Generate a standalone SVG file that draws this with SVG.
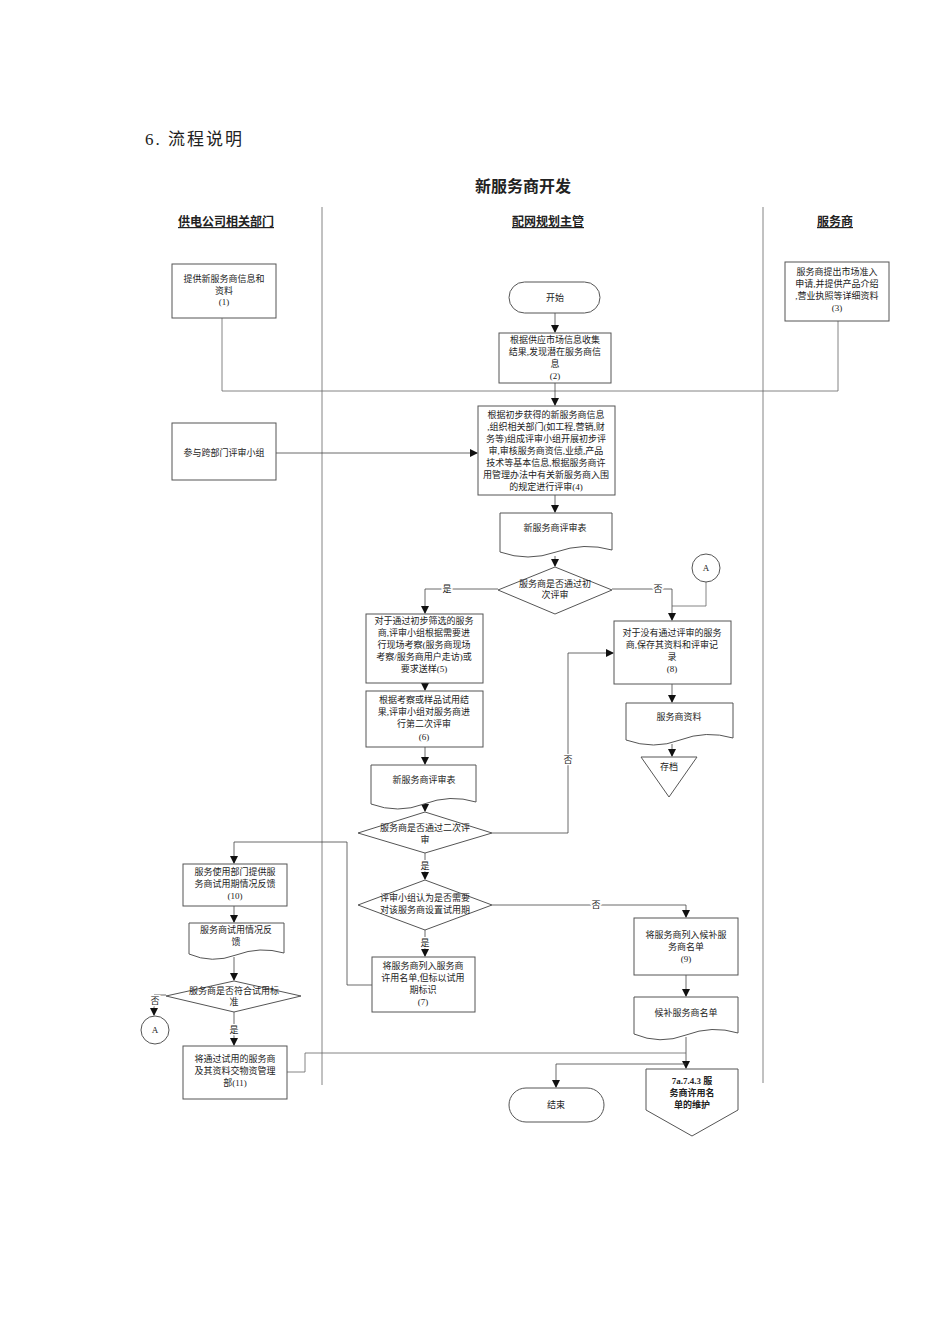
<svg xmlns="http://www.w3.org/2000/svg" width="950" height="1344" viewBox="0 0 950 1344">
<style>
text{font-family:"Liberation Serif","Noto Sans CJK SC",serif;font-size:9px;fill:#222;text-anchor:middle}
.b{fill:#fff;stroke:#555;stroke-width:1}
.l{fill:none;stroke:#666;stroke-width:0.8}
.a{fill:none;stroke:#444;stroke-width:0.8;marker-end:url(#ar)}
.h{font-size:12px;font-weight:bold;text-decoration:underline}
.lb text{stroke:#fff;stroke-width:3px;paint-order:stroke}
</style>
<defs><marker id="ar" markerWidth="8" markerHeight="8" refX="7" refY="4" orient="auto" markerUnits="userSpaceOnUse"><path d="M0,0L8,4L0,8z" fill="#111"/></marker></defs>
<rect width="950" height="1344" fill="#fff"/>
<text x="145" y="145" style="font-size:17px;text-anchor:start;letter-spacing:2px">6. 流程说明</text>
<text x="523" y="192" style="font-size:16px;font-weight:bold">新服务商开发</text>
<text x="226" y="226" class="h">供电公司相关部门</text>
<text x="548" y="226" class="h">配网规划主管</text>
<text x="835" y="226" class="h">服务商</text>
<g id="lanes"><line x1="322" y1="207" x2="322" y2="1085" class="l"/><line x1="763" y1="207" x2="763" y2="1083" class="l"/></g>
<g id="connectors">
<polyline points="222,318 222,391 838,391 838,321" class="l"/>
<line x1="555" y1="313" x2="555" y2="332" class="a"/>
<line x1="555" y1="383" x2="555" y2="405" class="a"/>
<line x1="276" y1="453" x2="477" y2="453" class="a"/>
<line x1="555" y1="495" x2="555" y2="512" class="a"/>
<line x1="555" y1="556" x2="555" y2="566" class="a"/>
<polyline points="498,589 425,589 425,613" class="a"/>
<polyline points="612,589 672,589 672,620" class="a"/>
<polyline points="706,582 706,606 672,606" class="l"/>
<line x1="425" y1="683" x2="425" y2="690" class="a"/>
<line x1="425" y1="747" x2="425" y2="764" class="a"/>
<line x1="425" y1="807" x2="425" y2="811" class="a"/>
<polyline points="492,833 568,833 568,653 613,653" class="a"/>
<line x1="672" y1="684" x2="672" y2="702" class="a"/>
<line x1="672" y1="744" x2="672" y2="756" class="a"/>
<line x1="425" y1="853" x2="425" y2="879" class="a"/>
<polyline points="492,905 686,905 686,917" class="a"/>
<line x1="425" y1="930" x2="425" y2="956" class="a"/>
<polyline points="372,985 347,985 347,842 234,842 234,863" class="a"/>
<line x1="234" y1="906" x2="234" y2="922" class="a"/>
<line x1="234" y1="957" x2="234" y2="980" class="a"/>
<polyline points="166,995 154,995 154,1015" class="a"/>
<line x1="234" y1="1012" x2="234" y2="1045" class="a"/>
<line x1="686" y1="975" x2="686" y2="996" class="a"/>
<line x1="686" y1="1037" x2="686" y2="1068" class="a"/>
<polyline points="287,1072 305,1072 305,1053 686,1053" class="l"/>
<polyline points="686,1064 556,1064 556,1087" class="a"/>
<g class="lb"><text x="447" y="592">是</text><text x="658" y="592">否</text><text x="568" y="763">否</text><text x="425" y="869">是</text><text x="596" y="908">否</text><text x="425" y="946">是</text><text x="155" y="1004">否</text><text x="234" y="1033">是</text></g>
</g>
<g id="n1"><rect x="172" y="264" width="104" height="54" class="b"/><text x="224" y="282">提供新服务商信息和</text><text x="224" y="294">资料</text><text x="224" y="305">(1)</text></g>
<g id="start"><rect x="509" y="282" width="91" height="31" rx="15.5" class="b"/><text x="555" y="301">开始</text></g>
<g id="n2"><rect x="499" y="333" width="112" height="50" class="b"/><text x="555" y="343">根据供应市场信息收集</text><text x="555" y="355">结果,发现潜在服务商信</text><text x="555" y="367">息</text><text x="555" y="379">(2)</text></g>
<g id="n3"><rect x="785" y="262" width="104" height="59" class="b"/><text x="837" y="275">服务商提出市场准入</text><text x="837" y="287">申请,并提供产品介绍</text><text x="837" y="299">,营业执照等详细资料</text><text x="837" y="311">(3)</text></g>
<g id="n4"><rect x="478" y="406" width="137" height="89" class="b"/>
<text x="546" y="418">根据初步获得的新服务商信息</text><text x="546" y="430">,组织相关部门(如工程,营销,财</text><text x="546" y="442">务等)组成评审小组开展初步评</text><text x="546" y="454">审,审核服务商资信,业绩,产品</text><text x="546" y="466">技术等基本信息,根据服务商许</text><text x="546" y="478">用管理办法中有关新服务商入围</text><text x="546" y="490">的规定进行评审(4)</text></g>
<g id="jp"><rect x="172" y="423" width="104" height="57" class="b"/><text x="224" y="456">参与跨部门评审小组</text></g>
<g id="d1"><path d="M500,513H612V550Q584,542 556,552T500,552Z" class="b"/><text x="555" y="531">新服务商评审表</text></g>
<g id="q1"><polygon points="555,567 612,590 555,614 498,590" class="b"/><text x="555" y="587">服务商是否通过初</text><text x="555" y="598">次评审</text></g>
<g id="ca1"><circle cx="706" cy="568" r="14" class="b"/><text x="706" y="571">A</text></g>
<g id="n5"><rect x="366" y="614" width="117" height="69" class="b"/><text x="424" y="624">对于通过初步筛选的服务</text><text x="424" y="636">商,评审小组根据需要进</text><text x="424" y="648">行现场考察(服务商现场</text><text x="424" y="660">考察/服务商用户走访)或</text><text x="424" y="672">要求送样(5)</text></g>
<g id="n6"><rect x="366" y="691" width="117" height="56" class="b"/><text x="424" y="703">根据考察或样品试用结</text><text x="424" y="715">果,评审小组对服务商进</text><text x="424" y="727">行第二次评审</text><text x="424" y="740">(6)</text></g>
<g id="d2"><path d="M371,765H476V802Q450,794 424,804T371,804Z" class="b"/><text x="424" y="783">新服务商评审表</text></g>
<g id="q2"><polygon points="425,812 492,833 425,853 358,833" class="b"/><text x="425" y="831">服务商是否通过二次评</text><text x="425" y="843">审</text></g>
<g id="n8"><rect x="614" y="621" width="117" height="63" class="b"/><text x="672" y="636">对于没有通过评审的服务</text><text x="672" y="648">商,保存其资料和评审记</text><text x="672" y="660">录</text><text x="672" y="672">(8)</text></g>
<g id="d3"><path d="M626,703H733V738Q706,730 680,740T626,740Z" class="b"/><text x="679" y="720">服务商资料</text></g>
<g id="arch"><polygon points="641,757 697,757 669,797" class="b"/><text x="669" y="770">存档</text></g>
<g id="q3"><polygon points="425,880 492,905 425,930 358,905" class="b"/><text x="425" y="901">评审小组认为是否需要</text><text x="425" y="913">对该服务商设置试用期</text></g>
<g id="n7"><rect x="372" y="957" width="103" height="55" class="b"/><text x="423" y="969">将服务商列入服务商</text><text x="423" y="981">许用名单,但标以试用</text><text x="423" y="993">期标识</text><text x="423" y="1005">(7)</text></g>
<g id="n9"><rect x="634" y="918" width="104" height="57" class="b"/><text x="686" y="938">将服务商列入候补服</text><text x="686" y="950">务商名单</text><text x="686" y="962">(9)</text></g>
<g id="d4"><path d="M634,997H738V1033Q712,1025 686,1035T634,1034Z" class="b"/><text x="686" y="1016">候补服务商名单</text></g>
<g id="n10"><rect x="183" y="864" width="104" height="42" class="b"/><text x="235" y="875">服务使用部门提供服</text><text x="235" y="887">务商试用期情况反馈</text><text x="235" y="899">(10)</text></g>
<g id="d5"><path d="M189,923H284V953Q260,946 236,955T189,954Z" class="b"/><text x="236" y="933">服务商试用情况反</text><text x="236" y="945">馈</text></g>
<g id="q4"><polygon points="234,981 301,996 234,1012 166,996" class="b"/><text x="234" y="994">服务商是否符合试用标</text><text x="234" y="1005">准</text></g>
<g id="ca2"><circle cx="155" cy="1030" r="14" class="b"/><text x="155" y="1033">A</text></g>
<g id="n11"><rect x="183" y="1046" width="104" height="53" class="b"/><text x="235" y="1062">将通过试用的服务商</text><text x="235" y="1074">及其资料交物资管理</text><text x="235" y="1086">部(11)</text></g>
<g id="end"><rect x="509" y="1088" width="95" height="34" rx="17" class="b"/><text x="556" y="1108">结束</text></g>
<g id="ref"><polygon points="646,1069 738,1069 738,1110 692,1136 646,1110" class="b"/><g style="font-weight:bold"><text x="692" y="1084">7a.7.4.3 服</text><text x="692" y="1096">务商许用名</text><text x="692" y="1108">单的维护</text></g></g>
</svg>
